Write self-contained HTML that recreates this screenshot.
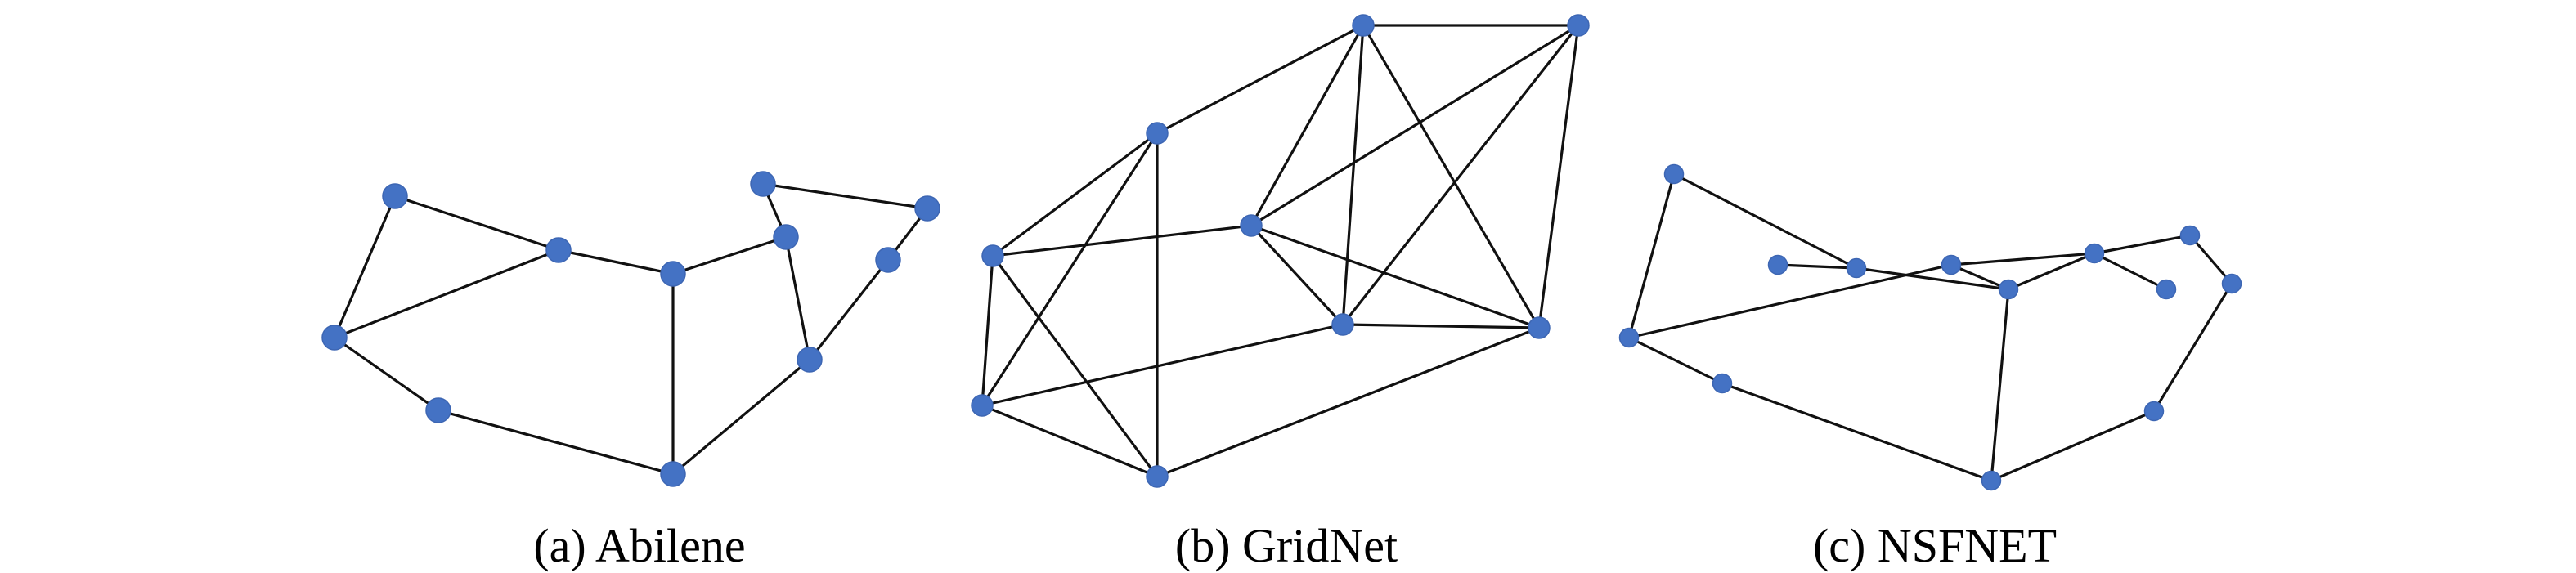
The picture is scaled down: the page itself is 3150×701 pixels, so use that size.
<!DOCTYPE html>
<html><head><meta charset="utf-8"><style>
html,body{margin:0;padding:0;background:#fff;}
svg{display:block;}
text{font-family:"Liberation Serif",serif;font-size:58px;fill:#000;}
</style></head><body>
<svg width="3150" height="701" viewBox="0 0 3150 701" xmlns="http://www.w3.org/2000/svg">
<rect width="3150" height="701" fill="#fff"/>
<g stroke="#111" stroke-width="3.2" stroke-linecap="round">
<!-- Abilene -->
<line x1="483" y1="240" x2="683" y2="306"/>
<line x1="483" y1="240" x2="409" y2="413"/>
<line x1="409" y1="413" x2="683" y2="306"/>
<line x1="683" y1="306" x2="823" y2="335"/>
<line x1="823" y1="335" x2="961" y2="290"/>
<line x1="961" y1="290" x2="933" y2="225"/>
<line x1="933" y1="225" x2="1134" y2="255"/>
<line x1="1134" y1="255" x2="1086" y2="318"/>
<line x1="1086" y1="318" x2="990" y2="440"/>
<line x1="961" y1="290" x2="990" y2="440"/>
<line x1="823" y1="335" x2="823" y2="580"/>
<line x1="990" y1="440" x2="823" y2="580"/>
<line x1="409" y1="413" x2="536" y2="502"/>
<line x1="536" y1="502" x2="823" y2="580"/>
<!-- GridNet -->
<line x1="1667" y1="31" x2="1930" y2="31"/>
<line x1="1667" y1="31" x2="1415" y2="163"/>
<line x1="1667" y1="31" x2="1530" y2="276"/>
<line x1="1667" y1="31" x2="1642" y2="397"/>
<line x1="1667" y1="31" x2="1882" y2="401"/>
<line x1="1930" y1="31" x2="1530" y2="276"/>
<line x1="1930" y1="31" x2="1642" y2="397"/>
<line x1="1930" y1="31" x2="1882" y2="401"/>
<line x1="1415" y1="163" x2="1214" y2="313"/>
<line x1="1415" y1="163" x2="1201" y2="496"/>
<line x1="1415" y1="163" x2="1415" y2="583"/>
<line x1="1530" y1="276" x2="1214" y2="313"/>
<line x1="1530" y1="276" x2="1642" y2="397"/>
<line x1="1530" y1="276" x2="1882" y2="401"/>
<line x1="1214" y1="313" x2="1201" y2="496"/>
<line x1="1214" y1="313" x2="1415" y2="583"/>
<line x1="1642" y1="397" x2="1882" y2="401"/>
<line x1="1642" y1="397" x2="1201" y2="496"/>
<line x1="1882" y1="401" x2="1415" y2="583"/>
<line x1="1201" y1="496" x2="1415" y2="583"/>
<!-- NSFNET -->
<line x1="2047" y1="213" x2="2270" y2="328"/>
<line x1="2047" y1="213" x2="1992" y2="413"/>
<line x1="2174" y1="324" x2="2270" y2="328"/>
<line x1="2270" y1="328" x2="2456" y2="354"/>
<line x1="1992" y1="413" x2="2386" y2="324"/>
<line x1="2386" y1="324" x2="2456" y2="354"/>
<line x1="2386" y1="324" x2="2561" y2="310"/>
<line x1="2456" y1="354" x2="2561" y2="310"/>
<line x1="2561" y1="310" x2="2678" y2="288"/>
<line x1="2561" y1="310" x2="2649" y2="354"/>
<line x1="2678" y1="288" x2="2729" y2="347"/>
<line x1="2729" y1="347" x2="2634" y2="503"/>
<line x1="2634" y1="503" x2="2435" y2="588"/>
<line x1="2456" y1="354" x2="2435" y2="588"/>
<line x1="1992" y1="413" x2="2106" y2="469"/>
<line x1="2106" y1="469" x2="2435" y2="588"/>
</g>
<g fill="#4472c4" stroke="#3d66b3" stroke-width="1.5">
<circle cx="483" cy="240" r="15"/><circle cx="683" cy="306" r="15"/><circle cx="823" cy="335" r="15"/>
<circle cx="961" cy="290" r="15"/><circle cx="933" cy="225" r="15"/><circle cx="1134" cy="255" r="15"/>
<circle cx="1086" cy="318" r="15"/><circle cx="409" cy="413" r="15"/><circle cx="536" cy="502" r="15"/>
<circle cx="823" cy="580" r="15"/><circle cx="990" cy="440" r="15"/>
<circle cx="1667" cy="31" r="13"/><circle cx="1930" cy="31" r="13"/><circle cx="1415" cy="163" r="13"/>
<circle cx="1530" cy="276" r="13"/><circle cx="1214" cy="313" r="13"/><circle cx="1642" cy="397" r="13"/>
<circle cx="1882" cy="401" r="13"/><circle cx="1201" cy="496" r="13"/><circle cx="1415" cy="583" r="13"/>
<circle cx="2047" cy="213" r="11.5"/><circle cx="2174" cy="324" r="11.5"/><circle cx="2270" cy="328" r="11.5"/>
<circle cx="2386" cy="324" r="11.5"/><circle cx="2456" cy="354" r="11.5"/><circle cx="2561" cy="310" r="11.5"/>
<circle cx="2678" cy="288" r="11.5"/><circle cx="2649" cy="354" r="11.5"/><circle cx="2729" cy="347" r="11.5"/>
<circle cx="1992" cy="413" r="11.5"/><circle cx="2106" cy="469" r="11.5"/><circle cx="2435" cy="588" r="11.5"/>
<circle cx="2634" cy="503" r="11.5"/>
</g>
<text x="782" y="687" text-anchor="middle">(a) Abilene</text>
<text x="1573" y="687" text-anchor="middle">(b) GridNet</text>
<text x="2366" y="687" text-anchor="middle">(c) NSFNET</text>
</svg>
</body></html>
